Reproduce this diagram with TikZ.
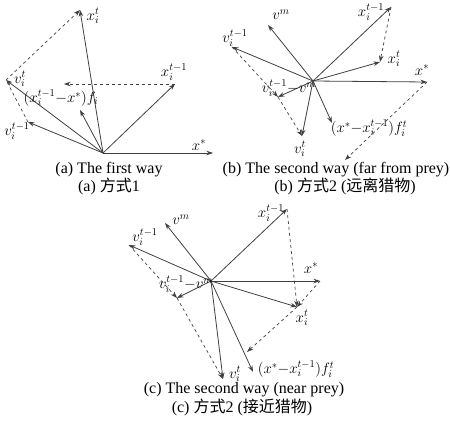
\RequirePackage{fix-cm}
\documentclass[tikz,border=0pt]{standalone}
\usepackage{fontspec}
\setmainfont{Liberation Serif}
\newfontfamily\cjk{Noto Sans CJK SC}
\usepackage{tikz}
\usetikzlibrary{arrows.meta}

\begin{document}
\begin{tikzpicture}[x=1pt, y=-1pt, >={Stealth[length=6.5pt,width=4.5pt]},
    vec/.style={->, black!75, line width=0.8pt},
    aux/.style={->, dashed, black!75, line width=0.7pt},
    auxline/.style={dashed, black!75, line width=0.7pt},
    lab/.style={font=\fontsize{15}{16}\selectfont, inner sep=0pt},
    capline/.style={font=\fontsize{16}{18}\selectfont, inner sep=0pt}]
\useasboundingbox (0,0) rectangle (450,429);
% (a) the first way
\coordinate (Oa) at (103,153);
\coordinate (Sa) at (213,153);
\coordinate (Xa) at (80,10);
\coordinate (Pa) at (175,84);
\coordinate (Va) at (6,80);
\coordinate (Ua) at (28,122);
\coordinate (Fa) at (80,110);
\coordinate (Da) at (64,84);
\foreach \p in {Sa,Xa,Pa,Va,Ua,Fa}{
    \draw[vec] (Oa) -- (\p);
}
\draw[aux] (Pa) -- (Da);
\draw[auxline] (Ua) -- (Va);
\draw[aux] (Va) -- (Xa);
\node[lab] (lSa) at (199,145) {$x^*$};
\node[lab] (lXa) at (93,16) {$x_i^t$};
\node[lab] (lPa) at (174,72) {$x_i^{t-1}$};
\node[lab] (lVa) at (20,79) {$v_i^t$};
\node[lab] (lUa) at (17,131) {$v_i^{t-1}$};
\node[lab] (lFa) at (61,98) {$(x_i^{t-1}{-}x^*)f_i$};
\node[capline] (ca1) at (109,170) {(a) The first way};
\node[capline] (ca2) at (109,186) {(a) {\cjk 方式}1};
% (b) the second way, far from prey
\coordinate (Ob) at (313,81);
\coordinate (Sb) at (427,82);
\coordinate (Pb) at (391,7);
\coordinate (Xb) at (380,62);
\coordinate (Mb) at (268,25);
\coordinate (Ub) at (232,47);
\coordinate (Db) at (278,97);
\coordinate (Vb) at (302,136);
\coordinate (Fb) at (332,123);
\coordinate (Eb) at (345,160);
\foreach \p in {Sb,Pb,Xb,Mb,Ub,Db,Vb,Fb}{
    \draw[vec] (Ob) -- (\p);
}
\draw[aux] (Pb) -- (Xb);
\draw[aux] (Ub) -- (Db);
\draw[aux] (Db) -- (Vb);
\draw[aux] (Sb) -- (Eb);
\node[lab] (lSb) at (422,70) {$x^*$};
\node[lab] (lPb) at (371,12) {$x_i^{t-1}$};
\node[lab] (lXb) at (394,59) {$x_i^t$};
\node[lab] (lMb) at (281,15) {$v^m$};
\node[lab] (lUb) at (235,38) {$v_i^{t-1}$};
\node[lab] (lDb) at (289,88) {$v_i^{t-1}{-}v^m$};
\node[lab] (lVb) at (300,149) {$v_i^t$};
\node[lab] (lFb) at (369,128) {$(x^*{-}x_i^{t-1})f_i^t$};
\node[capline] (cb1) at (336,170) {(b) The second way (far from prey)};
\node[capline] (cb2) at (345,186) {(b) {\cjk 方式}2 ({\cjk 远离猎物})};
% (c) the second way, near prey
\coordinate (Oc) at (211,281);
\coordinate (Sc) at (320,281);
\coordinate (Pc) at (287,209);
\coordinate (Xc) at (297,307);
\coordinate (Mc) at (165,223);
\coordinate (Uc) at (129,245);
\coordinate (Dc) at (177,298);
\coordinate (Vc) at (223,379);
\coordinate (Fc) at (253,372);
\coordinate (Ec) at (247,352);
\foreach \p in {Sc,Pc,Xc,Mc,Uc,Dc,Vc,Fc}{
    \draw[vec] (Oc) -- (\p);
}
\draw[aux] (Pc) -- (Xc);
\draw[aux] (Sc) -- (Xc);
\draw[aux] (Uc) -- (Dc);
\draw[aux] (Dc) -- (Vc);
\draw[aux] (Xc) -- (Ec);
\node[lab] (lSc) at (311,268) {$x^*$};
\node[lab] (lPc) at (271,213) {$x_i^{t-1}$};
\node[lab] (lXc) at (302,318) {$x_i^t$};
\node[lab] (lMc) at (181,220) {$v^m$};
\node[lab] (lUc) at (145,237) {$v_i^{t-1}$};
\node[lab] (lDc) at (186,284) {$v_i^{t-1}{-}v^m$};
\node[lab] (lVc) at (235,374) {$v_i^t$};
\node[lab] (lFc) at (296,369) {$(x^*{-}x_i^{t-1})f_i^t$};
\node[capline] (cc1) at (244,390) {(c) The second way (near prey)};
\node[capline] (cc2) at (242,407) {(c) {\cjk 方式}2 ({\cjk 接近猎物})};
\end{tikzpicture}
\end{document}
